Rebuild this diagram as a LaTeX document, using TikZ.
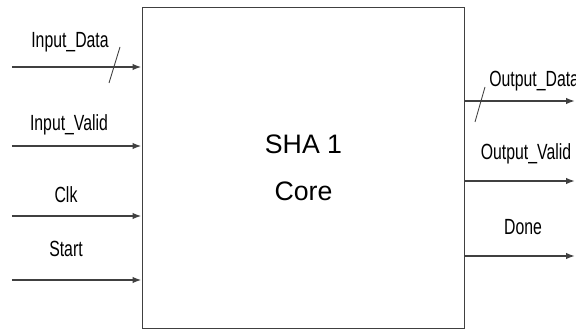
\documentclass[tikz,border=0pt]{standalone}
\usepackage{fontspec}
\setmainfont{Liberation Sans}
\newfontfamily\narrowfont[FakeStretch=0.72]{Liberation Sans}
\usetikzlibrary{arrows.meta}
\begin{document}
\begin{tikzpicture}[
  x=0.02cm, y=-0.02cm,
  blk/.style={draw=black!75, line width=0.6pt, minimum width=6.46cm, minimum height=6.44cm,
    inner sep=0pt, align=center, font=\fontsize{15.2}{26.6}\selectfont},
  sig/.style={draw=black!75, line width=0.9pt, -{Latex[length=5pt,width=3.6pt]}},
  lbl/.style={anchor=base, inner sep=0pt, font=\narrowfont\fontsize{12.5}{14}\selectfont},
  bus/.style={draw=black!75, line width=0.5pt}
]
\useasboundingbox (0,0) rectangle (576,331);

\node[blk] (core) at (303.5,168) {SHA 1\\Core};

% inputs
\coordinate (inData)  at (12,67);
\coordinate (inValid) at (12,146);
\coordinate (inClk)   at (12,216);
\coordinate (inStart) at (12,280);

\draw[sig] (inData)  -- (inData  -| core.west);
\draw[sig] (inValid) -- (inValid -| core.west);
\draw[sig] (inClk)   -- (inClk   -| core.west);
\draw[sig] (inStart) -- (inStart -| core.west);

\node[lbl] (lData)  at (70,48)  {Input\_Data};
\node[lbl] (lValid) at (69,131) {Input\_Valid};
\node[lbl] (lClk)   at (66,203) {Clk};
\node[lbl] (lStart) at (66,257) {Start};

% outputs
\coordinate (outData)  at (575,101);
\coordinate (outValid) at (575,181);
\coordinate (outDone)  at (575,256);

\draw[sig] (outData  -| core.east) -- (outData);
\draw[sig] (outValid -| core.east) -- (outValid);
\draw[sig] (outDone  -| core.east) -- (outDone);

\node[lbl, anchor=base west] (lOData)  at (489,87)  {Output\_Data};
\node[lbl] (lOValid) at (526,160) {Output\_Valid};
\node[lbl] (lDone)   at (523,235) {Done};

% bus slashes
\draw[bus] (120,47) -- (109,83);
\draw[bus] (485,87) -- (475,122);
\end{tikzpicture}
\end{document}
